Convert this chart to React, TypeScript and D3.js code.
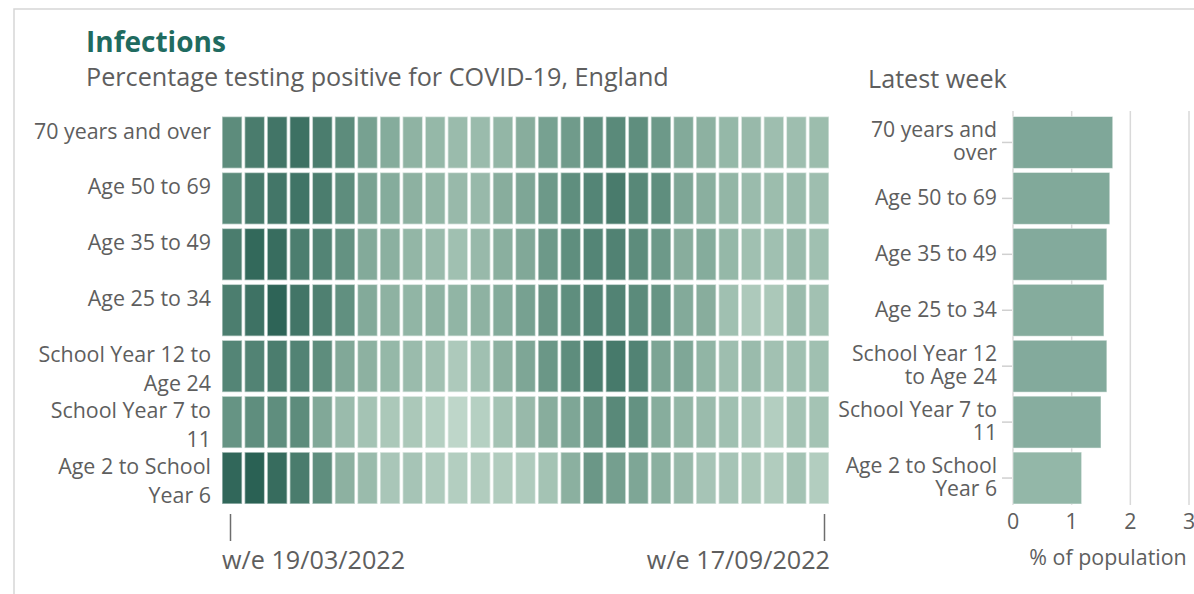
import React from "react";
import * as d3 from "d3";

const weeks = [
  "19/03/2022", "26/03/2022", "02/04/2022", "09/04/2022", "16/04/2022", "23/04/2022", "30/04/2022",
  "07/05/2022", "14/05/2022", "21/05/2022", "28/05/2022", "04/06/2022", "11/06/2022", "18/06/2022",
  "25/06/2022", "02/07/2022", "09/07/2022", "16/07/2022", "23/07/2022", "30/07/2022", "06/08/2022",
  "13/08/2022", "20/08/2022", "27/08/2022", "03/09/2022", "10/09/2022", "17/09/2022",
];

const ageGroups = [
  "70 years and over",
  "Age 50 to 69",
  "Age 35 to 49",
  "Age 25 to 34",
  "School Year 12 to Age 24",
  "School Year 7 to 11",
  "Age 2 to School Year 6",
];

const heatLabels = [
  ["70 years and over"],
  ["Age 50 to 69"],
  ["Age 35 to 49"],
  ["Age 25 to 34"],
  ["School Year 12 to", "Age 24"],
  ["School Year 7 to", "11"],
  ["Age 2 to School", "Year 6"],
];

const barLabels = [
  ["70 years and", "over"],
  ["Age 50 to 69"],
  ["Age 35 to 49"],
  ["Age 25 to 34"],
  ["School Year 12", "to Age 24"],
  ["School Year 7 to", "11"],
  ["Age 2 to School", "Year 6"],
];

// % testing positive, by week
const age70plus = [4.2, 5.8, 6.5, 6.9, 5.7, 4.2, 3.0, 2.4, 2.0, 1.85, 1.75, 1.75, 1.9, 2.3, 3.0, 3.3, 3.9, 4.4, 4.0, 3.4, 2.5, 2.1, 1.85, 1.8, 1.65, 1.65, 1.7];
const age50to69 = [4.3, 6.0, 6.4, 6.6, 5.7, 4.1, 2.9, 2.4, 2.1, 1.9, 1.8, 1.8, 2.3, 2.7, 3.4, 4.0, 4.9, 5.9, 4.6, 4.0, 2.7, 2.2, 1.9, 1.75, 1.7, 1.75, 1.65];
const age35to49 = [5.7, 7.7, 7.3, 5.6, 5.0, 3.8, 2.5, 2.15, 1.9, 1.75, 1.6, 1.8, 2.2, 2.6, 3.4, 4.0, 4.9, 5.2, 4.2, 3.4, 2.3, 2.4, 1.85, 1.6, 1.6, 1.75, 1.6];
const age25to34 = [5.6, 6.8, 8.2, 6.5, 5.4, 3.9, 2.5, 2.05, 1.95, 2.0, 1.95, 2.05, 2.45, 3.0, 3.6, 4.0, 5.1, 5.1, 4.3, 3.7, 2.5, 2.3, 1.6, 1.3, 1.35, 1.75, 1.55];
const sy12toAge24 = [4.9, 5.1, 5.7, 5.1, 4.1, 2.6, 2.1, 1.85, 1.75, 1.55, 1.3, 1.6, 2.1, 2.7, 3.5, 4.1, 5.7, 6.0, 5.1, 2.8, 2.65, 1.95, 1.65, 1.75, 1.55, 1.6, 1.6];
const sy7to11 = [3.7, 4.0, 4.0, 4.2, 2.6, 1.75, 1.5, 1.35, 1.35, 1.1, 0.9, 1.1, 1.5, 1.8, 2.3, 2.7, 3.5, 4.5, 3.8, 2.35, 1.9, 1.75, 1.6, 1.4, 1.15, 1.5, 1.5];
const age2toSY6 = [7.9, 8.8, 7.4, 5.8, 4.0, 2.1, 1.75, 1.4, 1.45, 1.25, 1.15, 1.2, 1.2, 1.25, 1.5, 2.15, 3.5, 3.1, 2.7, 2.15, 1.8, 1.45, 1.45, 1.35, 1.2, 1.5, 1.17];

const series = [age70plus, age50to69, age35to49, age25to34, sy12toAge24, sy7to11, age2toSY6];

const latestWeek = [1.7, 1.65, 1.6, 1.55, 1.6, 1.5, 1.17];
const barTicks = [0, 1, 2, 3];

const FONT = "'Open Sans', 'Noto Sans', sans-serif";
const TEXT = "#5e5e5e";

export default function App() {
  const W = 1194;
  const H = 594;

  const x = d3.scaleBand<string>().domain(weeks).range([222, 829]).paddingInner(0.11);
  const y = d3.scaleBand<string>().domain(ageGroups).range([116.5, 504]).paddingInner(0.072);

  const heatColor = d3
    .scaleLinear<string>()
    .domain([0.8, 2, 4, 8.5])
    .range(["#c2d9cc", "#8fb3a3", "#5f8e7e", "#2a6154"])
    .interpolate(d3.interpolateRgb)
    .clamp(true);

  const parse = d3.timeParse("%d/%m/%Y");
  const t = d3
    .scaleTime()
    .domain([parse(weeks[0]) as Date, parse(weeks[weeks.length - 1]) as Date])
    .range([230.5, 824.5]);

  const bx = d3.scaleLinear().domain([0, 3]).range([1013, 1189]);
  const barColor = d3.scaleLinear<string>().domain([1, 2]).range(["#99bcad", "#749e90"]);

  return (
    <svg
      width={W}
      height={H}
      style={{ position: "absolute", left: 0, top: 0, background: "#fff" }}
      fontFamily={FONT}
    >
      <rect x={14} y={9} width={W} height={H} fill="none" stroke="#d6d6d6" strokeWidth={1.5} />

      <text x={86} y={52} fontSize={28} fontWeight={700} fill="#1f6b60">
        Infections
      </text>
      <text x={86} y={86} fontSize={25.2} fill={TEXT}>
        Percentage testing positive for COVID-19, England
      </text>
      <text x={868} y={88} fontSize={25.2} fill={TEXT}>
        Latest week
      </text>

      {/* heatmap row labels */}
      {heatLabels.map((lines, i) =>
        lines.map((l, j) => (
          <text
            key={`${i}-${j}`}
            x={211}
            y={(y(ageGroups[i]) as number) + 22 + j * 29}
            fontSize={21.4}
            fill={TEXT}
            textAnchor="end"
          >
            {l}
          </text>
        ))
      )}

      {/* heatmap cells */}
      {series.map((vals, i) =>
        vals.map((v, j) => (
          <rect
            key={`${i}-${j}`}
            x={x(weeks[j])}
            y={y(ageGroups[i])}
            width={x.bandwidth()}
            height={y.bandwidth()}
            fill={heatColor(v)}
            stroke="rgba(255,255,255,0.55)"
            strokeWidth={1.5}
          />
        ))
      )}

      {/* heatmap time ticks */}
      {[weeks[0], weeks[weeks.length - 1]].map((w, k) => {
        const px = t(parse(w) as Date);
        return (
          <g key={w}>
            <line x1={px} x2={px} y1={514} y2={541} stroke="#6d6d6d" strokeWidth={1.5} />
            <text
              x={k === 0 ? 222 : 830}
              y={569}
              fontSize={25.2}
              fill={TEXT}
              textAnchor={k === 0 ? "start" : "end"}
            >
              {`w/e ${w}`}
            </text>
          </g>
        );
      })}

      {/* bar chart grid */}
      {barTicks.map((tk) => (
        <g key={tk}>
          <line x1={bx(tk)} x2={bx(tk)} y1={111} y2={505} stroke="#d9d9d9" strokeWidth={1.5} />
          <text x={bx(tk)} y={529} fontSize={21.4} fill={TEXT} textAnchor="middle">
            {tk}
          </text>
        </g>
      ))}
      <text x={1108} y={565} fontSize={21.4} fill={TEXT} textAnchor="middle">
        % of population
      </text>

      {/* bars */}
      {latestWeek.map((v, i) => {
        const y0 = y(ageGroups[i]) as number;
        const cy = y0 + y.bandwidth() / 2;
        const lines = barLabels[i];
        return (
          <g key={i}>
            <rect
              x={bx(0)}
              y={y0}
              width={bx(v) - bx(0)}
              height={y.bandwidth()}
              fill={barColor(v)}
              stroke="rgba(255,255,255,0.5)"
              strokeWidth={1}
            />
            <line x1={1002} x2={1012} y1={cy} y2={cy} stroke="#d0d0d0" strokeWidth={1.5} />
            {lines.map((l, j) => (
              <text
                key={j}
                x={997}
                y={cy + 6.5 - ((lines.length - 1) * 23) / 2 + j * 23}
                fontSize={21.2}
                fill={TEXT}
                textAnchor="end"
              >
                {l}
              </text>
            ))}
          </g>
        );
      })}
    </svg>
  );
}
